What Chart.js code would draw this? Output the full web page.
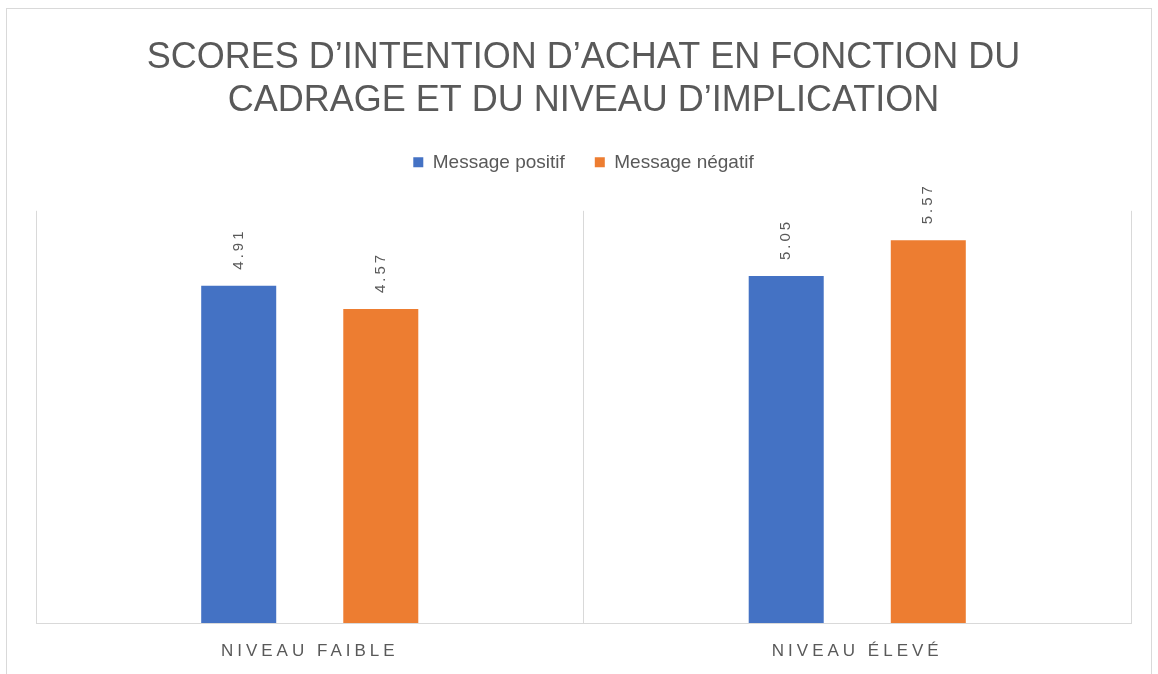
<!DOCTYPE html>
<html>
<head>
<meta charset="utf-8">
<script src="https://cdn.jsdelivr.net/npm/chart.js@4"></script>
<style>
  html, body { margin: 0; padding: 0; background: #fff; }
  #wrap { position: relative; width: 1158px; height: 674px; }
  #frame { position: absolute; left: 6px; top: 8px; width: 1144px; height: 670px; border: 1px solid #d9d9d9; pointer-events: none; }
</style>
</head>
<body>
<div id="wrap">
  <canvas id="chart" width="1158" height="674"></canvas>
  <div id="frame"></div>
</div>
<script>
// données
const categories = ["NIVEAU FAIBLE", "NIVEAU ÉLEVÉ"];
const seriesNames = ["Message positif", "Message négatif"];
const positif = [4.91, 5.05];
const negatif = [4.57, 5.57];
const titleLines = ["SCORES D\u2019INTENTION D\u2019ACHAT EN FONCTION DU", "CADRAGE ET DU NIVEAU D\u2019IMPLICATION"];

const grey = "#595959";

// étiquettes verticales au-dessus des barres + espacement des lettres de l'axe x
const labelsPlugin = {
  id: "barLabels",
  beforeInit(chart) {
    const fit = chart.legend.fit;
    chart.legend.fit = function () {
      fit.bind(chart.legend)();
      this.height += 29;
    };
  },
  afterDatasetsDraw(chart) {
    const ctx = chart.ctx;
    chart.data.datasets.forEach((ds, i) => {
      chart.getDatasetMeta(i).data.forEach((bar, j) => {
        ctx.save();
        ctx.translate(bar.x, bar.y - 16);
        ctx.rotate(-Math.PI / 2);
        ctx.letterSpacing = "3px";
        ctx.font = "15px 'Liberation Sans'";
        ctx.fillStyle = grey;
        ctx.textAlign = "left";
        ctx.textBaseline = "middle";
        ctx.fillText(ds.data[j].toFixed(2), 0, 0);
        ctx.restore();
      });
    });
    ctx.letterSpacing = "4px";
  },
  afterDraw(chart) {
    chart.ctx.letterSpacing = "0px";
  }
};

const ctx = document.getElementById("chart").getContext("2d");
const chart = new Chart(ctx, {
  type: "bar",
  data: {
    labels: categories,
    datasets: [
      { label: seriesNames[0], data: positif, backgroundColor: "#4472C4" },
      { label: seriesNames[1], data: negatif, backgroundColor: "#ED7D31" }
    ]
  },
  options: {
    responsive: false,
    devicePixelRatio: 1,
    animation: false,
    categoryPercentage: 0.519,
    barPercentage: 0.528,
    layout: { padding: { left: 36, right: 27, top: 0, bottom: -5.4 } },
    plugins: {
      title: {
        display: true,
        text: titleLines,
        color: grey,
        font: { family: "'Liberation Sans'", size: 36, weight: "normal", lineHeight: 1.2 },
        padding: { top: 36.4, bottom: 0 }
      },
      legend: {
        position: "top",
        labels: {
          color: grey,
          font: { family: "'Liberation Sans'", size: 19 },
          boxWidth: 10,
          boxHeight: 10,
          padding: 30
        }
      },
      tooltip: { enabled: false }
    },
    scales: {
      x: {
        offset: true,
        grid: { offset: true, color: "#d9d9d9", drawTicks: false },
        border: { color: "#d9d9d9" },
        ticks: {
          z: 1,
          color: grey,
          padding: 18,
          font: { family: "'Liberation Sans'", size: 17 }
        }
      },
      y: {
        display: false,
        min: 0,
        max: 6
      }
    }
  },
  plugins: [labelsPlugin]
});
</script>
</body>
</html>
